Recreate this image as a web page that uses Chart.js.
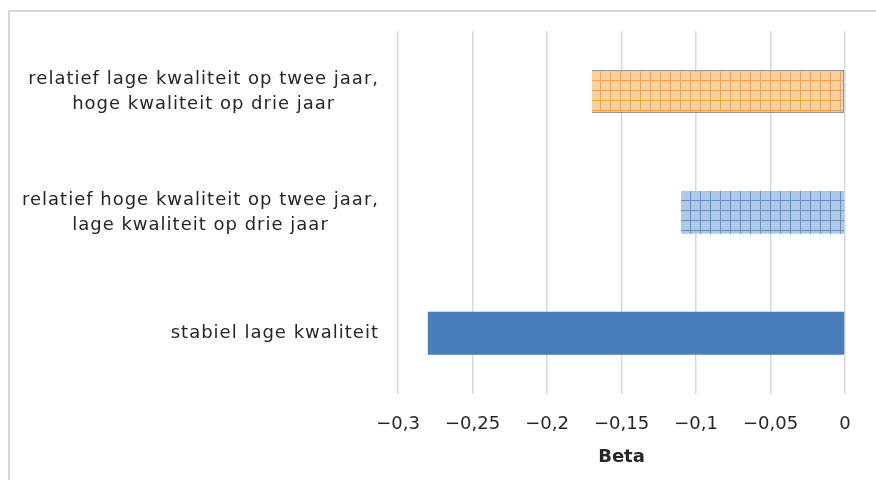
<!DOCTYPE html>
<html>
<head>
<meta charset="utf-8">
<script src="https://cdn.jsdelivr.net/npm/chart.js@4"></script>
<style>
  html, body { margin: 0; padding: 0; background: #fff; }
  #wrap { width: 876px; height: 480px; }
</style>
</head>
<body>
<div id="wrap"><canvas id="grafiek" width="876" height="480"></canvas></div>
<script>
// categorieën van boven naar beneden
const categorieen = [
  ['relatief lage kwaliteit op twee jaar,', 'hoge kwaliteit op drie jaar'],
  ['relatief hoge kwaliteit op twee jaar,', 'lage kwaliteit op drie jaar'],
  ['stabiel lage kwaliteit']
];
const betaWaarden = [-0.17, -0.11, -0.28];
const asMin = -0.3;
const asMax = 0;
const asStap = 0.05;
const asTitel = 'Beta';

const lettertype = 'DejaVu Sans, Verdana, sans-serif';

// ruitjespatroon voor de gearceerde balken
function ruitjes(vulling, lijn) {
  const c = document.createElement('canvas');
  c.width = 10; c.height = 10;
  const g = c.getContext('2d');
  g.fillStyle = vulling;
  g.fillRect(0, 0, 10, 10);
  g.fillStyle = lijn;
  g.fillRect(0, 0, 10, 1);
  g.fillRect(0, 0, 1, 10);
  return g.createPattern(c, 'repeat');
}
const ctx = document.getElementById('grafiek');
const kleuren = [
  ruitjes('#FDCF9C', '#F4A444'),
  ruitjes('#AFC8E8', '#5F8FCC'),
  '#4A7EBB'
];

const kaderEnLabels = {
  id: 'kaderEnLabels',
  beforeDraw(chart) {
    const g = chart.ctx;
    g.save();
    g.fillStyle = '#fff';
    g.fillRect(0, 0, chart.width, chart.height);
    g.strokeStyle = '#D6D6D6';
    g.lineWidth = 2;
    g.strokeRect(9, 11, chart.width + 20, chart.height + 20);
    g.restore();
  },
  afterDraw(chart) {
    const g = chart.ctx;
    const y = chart.scales.y;
    g.save();
    g.font = '18px ' + lettertype;
    g.letterSpacing = '1px';
    g.fillStyle = '#262626';
    g.textAlign = 'center';
    g.textBaseline = 'middle';
    const rechts = chart.chartArea.left - 19;
    const regel = 25;
    categorieen.forEach((lbl, i) => {
      const breed = Math.max(...lbl.map(t => g.measureText(t).width));
      const mx = rechts - breed / 2;
      const my = y.getPixelForValue(i);
      lbl.forEach((t, j) => {
        g.fillText(t, mx, my + (j - (lbl.length - 1) / 2) * regel);
      });
    });
    g.restore();
  }
};

new Chart(ctx, {
  type: 'bar',
  data: {
    labels: categorieen,
    datasets: [{
      data: betaWaarden,
      backgroundColor: kleuren,
      borderColor: ['#8C9AAE', 'rgba(0,0,0,0)', 'rgba(0,0,0,0)'],
      borderWidth: [1.5, 0, 0],
      borderSkipped: 'end',
      barPercentage: 0.355,
      categoryPercentage: 1
    }]
  },
  options: {
    indexAxis: 'y',
    responsive: false,
    animation: false,
    layout: { padding: { top: 31, right: 31, left: 0, bottom: 12 } },
    plugins: {
      legend: { display: false },
      tooltip: { enabled: false }
    },
    scales: {
      x: {
        min: asMin,
        max: asMax,
        border: { display: false },
        grid: { color: '#D9D9D9', lineWidth: 1.5, drawTicks: false },
        ticks: {
          stepSize: asStap,
          padding: 20,
          color: '#262626',
          font: { family: lettertype, size: 18 },
          callback: v => {
            const r = Math.round(v * 100) / 100;
            return r === 0 ? '0' : String(r).replace('-', '\u2212').replace('.', ',');
          }
        },
        title: {
          display: true,
          text: asTitel,
          color: '#262626',
          font: { family: lettertype, size: 18, weight: 'bold' },
          padding: { top: -9, bottom: 0 }
        }
      },
      y: {
        border: { display: false },
        grid: { display: false },
        ticks: { display: false },
        afterFit(s) { s.width = 398; }
      }
    }
  },
  plugins: [kaderEnLabels]
});
</script>
</body>
</html>
